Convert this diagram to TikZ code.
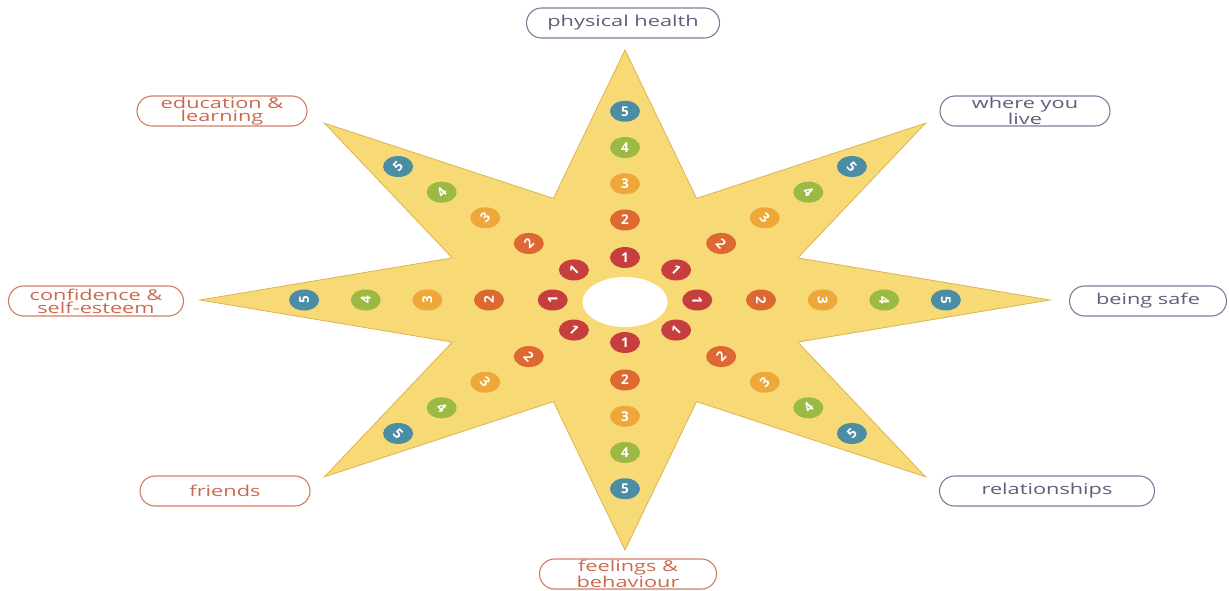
\documentclass[tikz,border=0pt]{standalone}
\usepackage{fontspec}
\usetikzlibrary{shapes.geometric}
\newfontfamily\labfont[FakeStretch=1.45]{Open Sans}
\newfontfamily\digfont{Open Sans}
\definecolor{starfill}{HTML}{F7DA76}
\definecolor{staredge}{HTML}{E0B24E}
\definecolor{cA}{HTML}{C63E3D}
\definecolor{cB}{HTML}{DE6831}
\definecolor{cC}{HTML}{EEA83A}
\definecolor{cD}{HTML}{9CBA43}
\definecolor{cE}{HTML}{4B8DA5}
\definecolor{purpedge}{HTML}{85779A}
\definecolor{purptext}{HTML}{675A7A}
\definecolor{orgedge}{HTML}{D17C62}
\definecolor{orgtext}{HTML}{C96A50}
\tikzset{
  badge/.style={ellipse, minimum width=30, minimum height=21, inner sep=0pt,
    text=white, font=\digfont\bfseries\fontsize{13.5}{13.5}\selectfont},
  lab/.style={draw, line width=1.1pt, rounded corners=15pt, minimum height=30,
    inner xsep=4pt, inner ysep=1pt, align=center,
    font=\labfont\fontsize{15}{13}\selectfont},
  purp/.style={lab, draw=purpedge, text=purptext},
  org/.style={lab, draw=orgedge, text=orgtext}
}
\begin{document}
\begin{tikzpicture}[x=1pt,y=-1pt]
\useasboundingbox (0,0) rectangle (1229,591);
% star
\path[fill=starfill, draw=staredge, line width=0.8pt] (1050,300)
  \foreach \a/\r in {22.5/0.44,45/1,67.5/0.44,90/1,112.5/0.44,135/1,157.5/0.44,180/1,
    202.5/0.44,225/1,247.5/0.44,270/1,292.5/0.44,315/1,337.5/0.44}
  { -- ({625+425*\r*cos(\a)},{300-250*\r*sin(\a)}) } -- cycle;
\node[ellipse, fill=white, minimum width=85, minimum height=50, inner sep=0pt] (hole) at (625,302) {};
% badges
\foreach \t/\rot in {0/-90,45/-45,90/0,135/45,180/90,225/-45,270/0,315/45}
  \foreach \n/\r/\c in {1/0.17/cA,2/0.32/cB,3/0.465/cC,4/0.61/cD,5/0.755/cE}
    \node[badge, fill=\c] (b\t-\n) at ({625+425*\r*cos(\t)},{300-250*\r*sin(\t)}) {\rotatebox{\rot}{\n}};
% labels
\node[purp, minimum width=193] (ph) at (623,23) {physical health};
\node[org, minimum width=170] (el) at (222,111) {education \&\\learning};
\node[purp, minimum width=170] (wl) at (1025,111) {where you\\live};
\node[org, minimum width=175] (cs) at (96,301) {confidence \&\\self-esteem};
\node[purp, minimum width=157] (bs) at (1148,301) {being safe};
\node[org, minimum width=170] (fr) at (225,491) {friends};
\node[purp, minimum width=215] (re) at (1047,491) {relationships};
\node[org, minimum width=177, font=\labfont\fontsize{15}{12.5}\selectfont] (fb) at (628,574) {feelings \&\\behaviour};
\end{tikzpicture}
\end{document}
